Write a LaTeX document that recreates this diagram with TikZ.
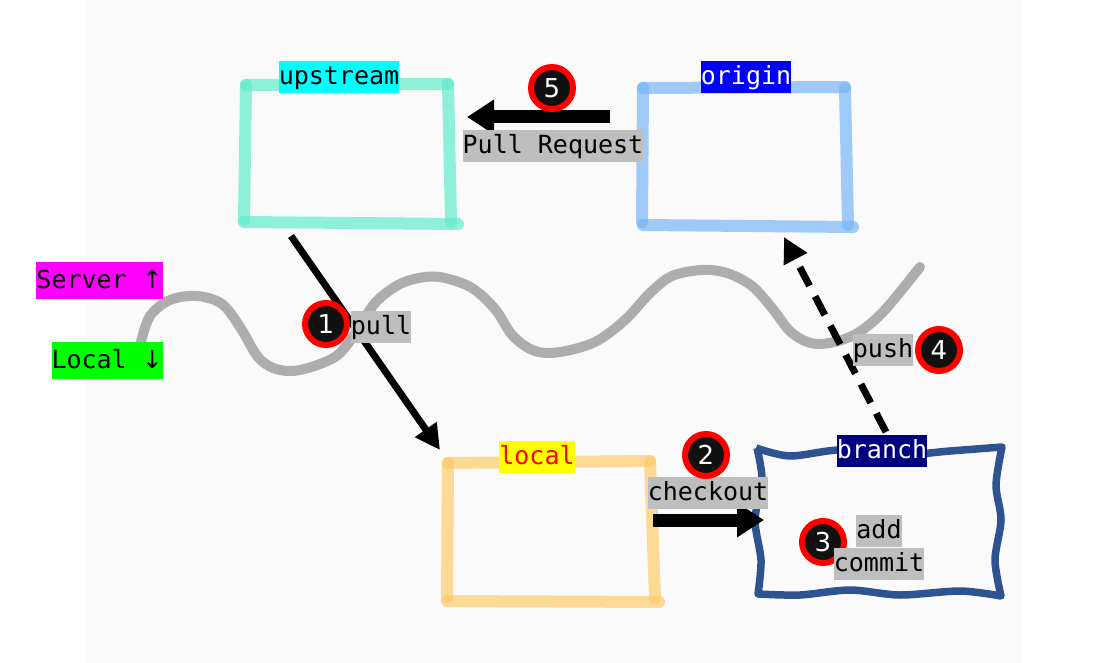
\documentclass[tikz,border=0pt]{standalone}
\usepackage{fontspec}
\setmonofont{DejaVu Sans Mono}
\newfontfamily\numfont{DejaVu Sans}
\usetikzlibrary{arrows.meta}
\definecolor{bgc}{RGB}{250,250,250}
\definecolor{wavegray}{RGB}{173,173,173}
\definecolor{labelgray}{RGB}{190,190,190}
\definecolor{numblack}{RGB}{17,17,17}
\definecolor{teal1}{RGB}{96,236,201}
\definecolor{blue1}{RGB}{121,183,247}
\definecolor{orange1}{RGB}{253,203,107}
\definecolor{branchblue}{RGB}{47,82,145}
\definecolor{cyanc}{RGB}{0,255,255}
\definecolor{bluec}{RGB}{0,0,255}
\definecolor{yellowc}{RGB}{255,255,0}
\definecolor{redc}{RGB}{255,0,0}
\definecolor{navyc}{RGB}{0,0,128}
\definecolor{magentac}{RGB}{255,0,255}
\definecolor{limec}{RGB}{0,255,0}
\begin{document}
\begin{tikzpicture}[x=1pt,y=-1pt,
  lbl/.style={inner xsep=0pt, inner ysep=1.5pt, text height=22pt, text depth=7pt,
    font=\ttfamily\fontsize{25}{30}\selectfont, fill=labelgray, text=black},
  legend/.style={lbl, text height=25pt, text depth=9pt},
  num/.style={circle, fill=numblack, draw=redc, line width=6pt, minimum size=42pt,
    inner sep=0pt, text=white, font=\numfont\fontsize{26}{30}\selectfont},
  hand/.style={line width=12pt, line cap=round, opacity=0.7},
  wave/.style={line width=10pt, line cap=round, color=wavegray},
  thinarrow/.style={line width=7pt, -{Triangle[length=25pt,width=25pt]}},
  fatarrow/.style={line width=13pt, -{Triangle[length=27pt,width=33pt]}},
]
\useasboundingbox (0,0) rectangle (1097,663);
\fill[white] (0,0) rectangle (1097,663);
\fill[bgc] (85,0) rectangle (1022,663);

% boundary between server and local
\draw[wave] plot[smooth, tension=0.55] coordinates {(141,342) (150,316) (170,300) (197,296) (222,304) (240,327) (258,357) (276,369) (300,370) (335,357) (355,334) (375,303) (400,284) (425,277) (445,278) (472,288) (495,309) (513,336) (535,351) (560,352) (595,342) (625,320) (650,293) (672,276) (702,270) (727,273) (752,286) (772,308) (792,333) (817,344) (852,336) (882,313) (920,267)};

% upstream box
\draw[hand, teal1] (246,85) -- (448,84);
\draw[hand, teal1] (448,84) -- (451,222);
\draw[hand, teal1] (244,222) -- (458,224);
\draw[hand, teal1] (246,85) -- (244,220);
% origin box
\draw[hand, blue1] (643,88) -- (845,87);
\draw[hand, blue1] (845,88) -- (848,225);
\draw[hand, blue1] (643,225) -- (853,227);
\draw[hand, blue1] (643,88) -- (642,222);
% local box
\draw[hand, orange1] (448,463) -- (650,461);
\draw[hand, orange1] (650,462) -- (655,598);
\draw[hand, orange1] (447,601) -- (659,602);
\draw[hand, orange1] (448,463) -- (447,597);
% branch box
\draw[branchblue, line width=7.5pt, line join=round] plot[smooth, tension=0.5] coordinates {(756,448) (790,456) (840,450) (900,455) (950,451) (1002,447)}
  -- plot[smooth, tension=0.5] coordinates {(1002,447) (996,485) (1001,520) (995,560) (1001,596)}
  -- plot[smooth, tension=0.5] coordinates {(1001,596) (960,591) (900,595) (850,590) (800,595) (758,594)}
  -- plot[smooth, tension=0.5] coordinates {(758,594) (761,560) (755,520) (762,480) (757,448)};

% arrow end points
\coordinate (pullS) at (291,236);
\coordinate (pullE) at (440,450);
\coordinate (prS) at (610,117);
\coordinate (prE) at (467,117);
\coordinate (coS) at (653,520);
\coordinate (coE) at (764,520);
\coordinate (pushS) at (886,432);
\coordinate (pushE) at (784,237);

\draw[thinarrow] (pullS) -- (pullE);
\draw[fatarrow] (prS) -- (prE);
\draw[fatarrow] (coS) -- (coE);
\draw[thinarrow, dash pattern=on 21pt off 12pt] (pushS) -- (pushE);

% box titles
\node[lbl, fill=cyanc] (upstreamL) at (339,77) {upstream};
\node[lbl, fill=bluec, text=white] (originL) at (746,77) {origin};
\node[lbl, fill=yellowc, text=redc] (localL) at (537,457) {local};
\node[lbl, fill=navyc, text=white] (branchL) at (882,451) {branch};

% server/local legend
\node[legend, fill=magentac, anchor=east] (serverL) at (163,280) {Server {\numfont ↑}};
\node[legend, fill=limec, anchor=east] (localLeg) at (163,360) {Local {\numfont ↓}};

% step 3 (under its labels)
\node[num] (n3) at (823,542) {3};
\node[lbl] (addL) at (879,531) {add};
\node[lbl] (commitL) at (879,564) {commit};

% action labels
\node[lbl] (prL) at (553,146) {Pull Request};
\node[lbl] (pullL) at (381,327) {pull};
\node[lbl] (checkoutL) at (708,493) {checkout};
\node[lbl] (pushL) at (883,350) {push};

% step numbers
\node[num] (n1) at (326,324) {1};
\node[num] (n2) at (706,455) {2};
\node[num] (n4) at (939,350) {4};
\node[num] (n5) at (552,88) {5};
\end{tikzpicture}
\end{document}
